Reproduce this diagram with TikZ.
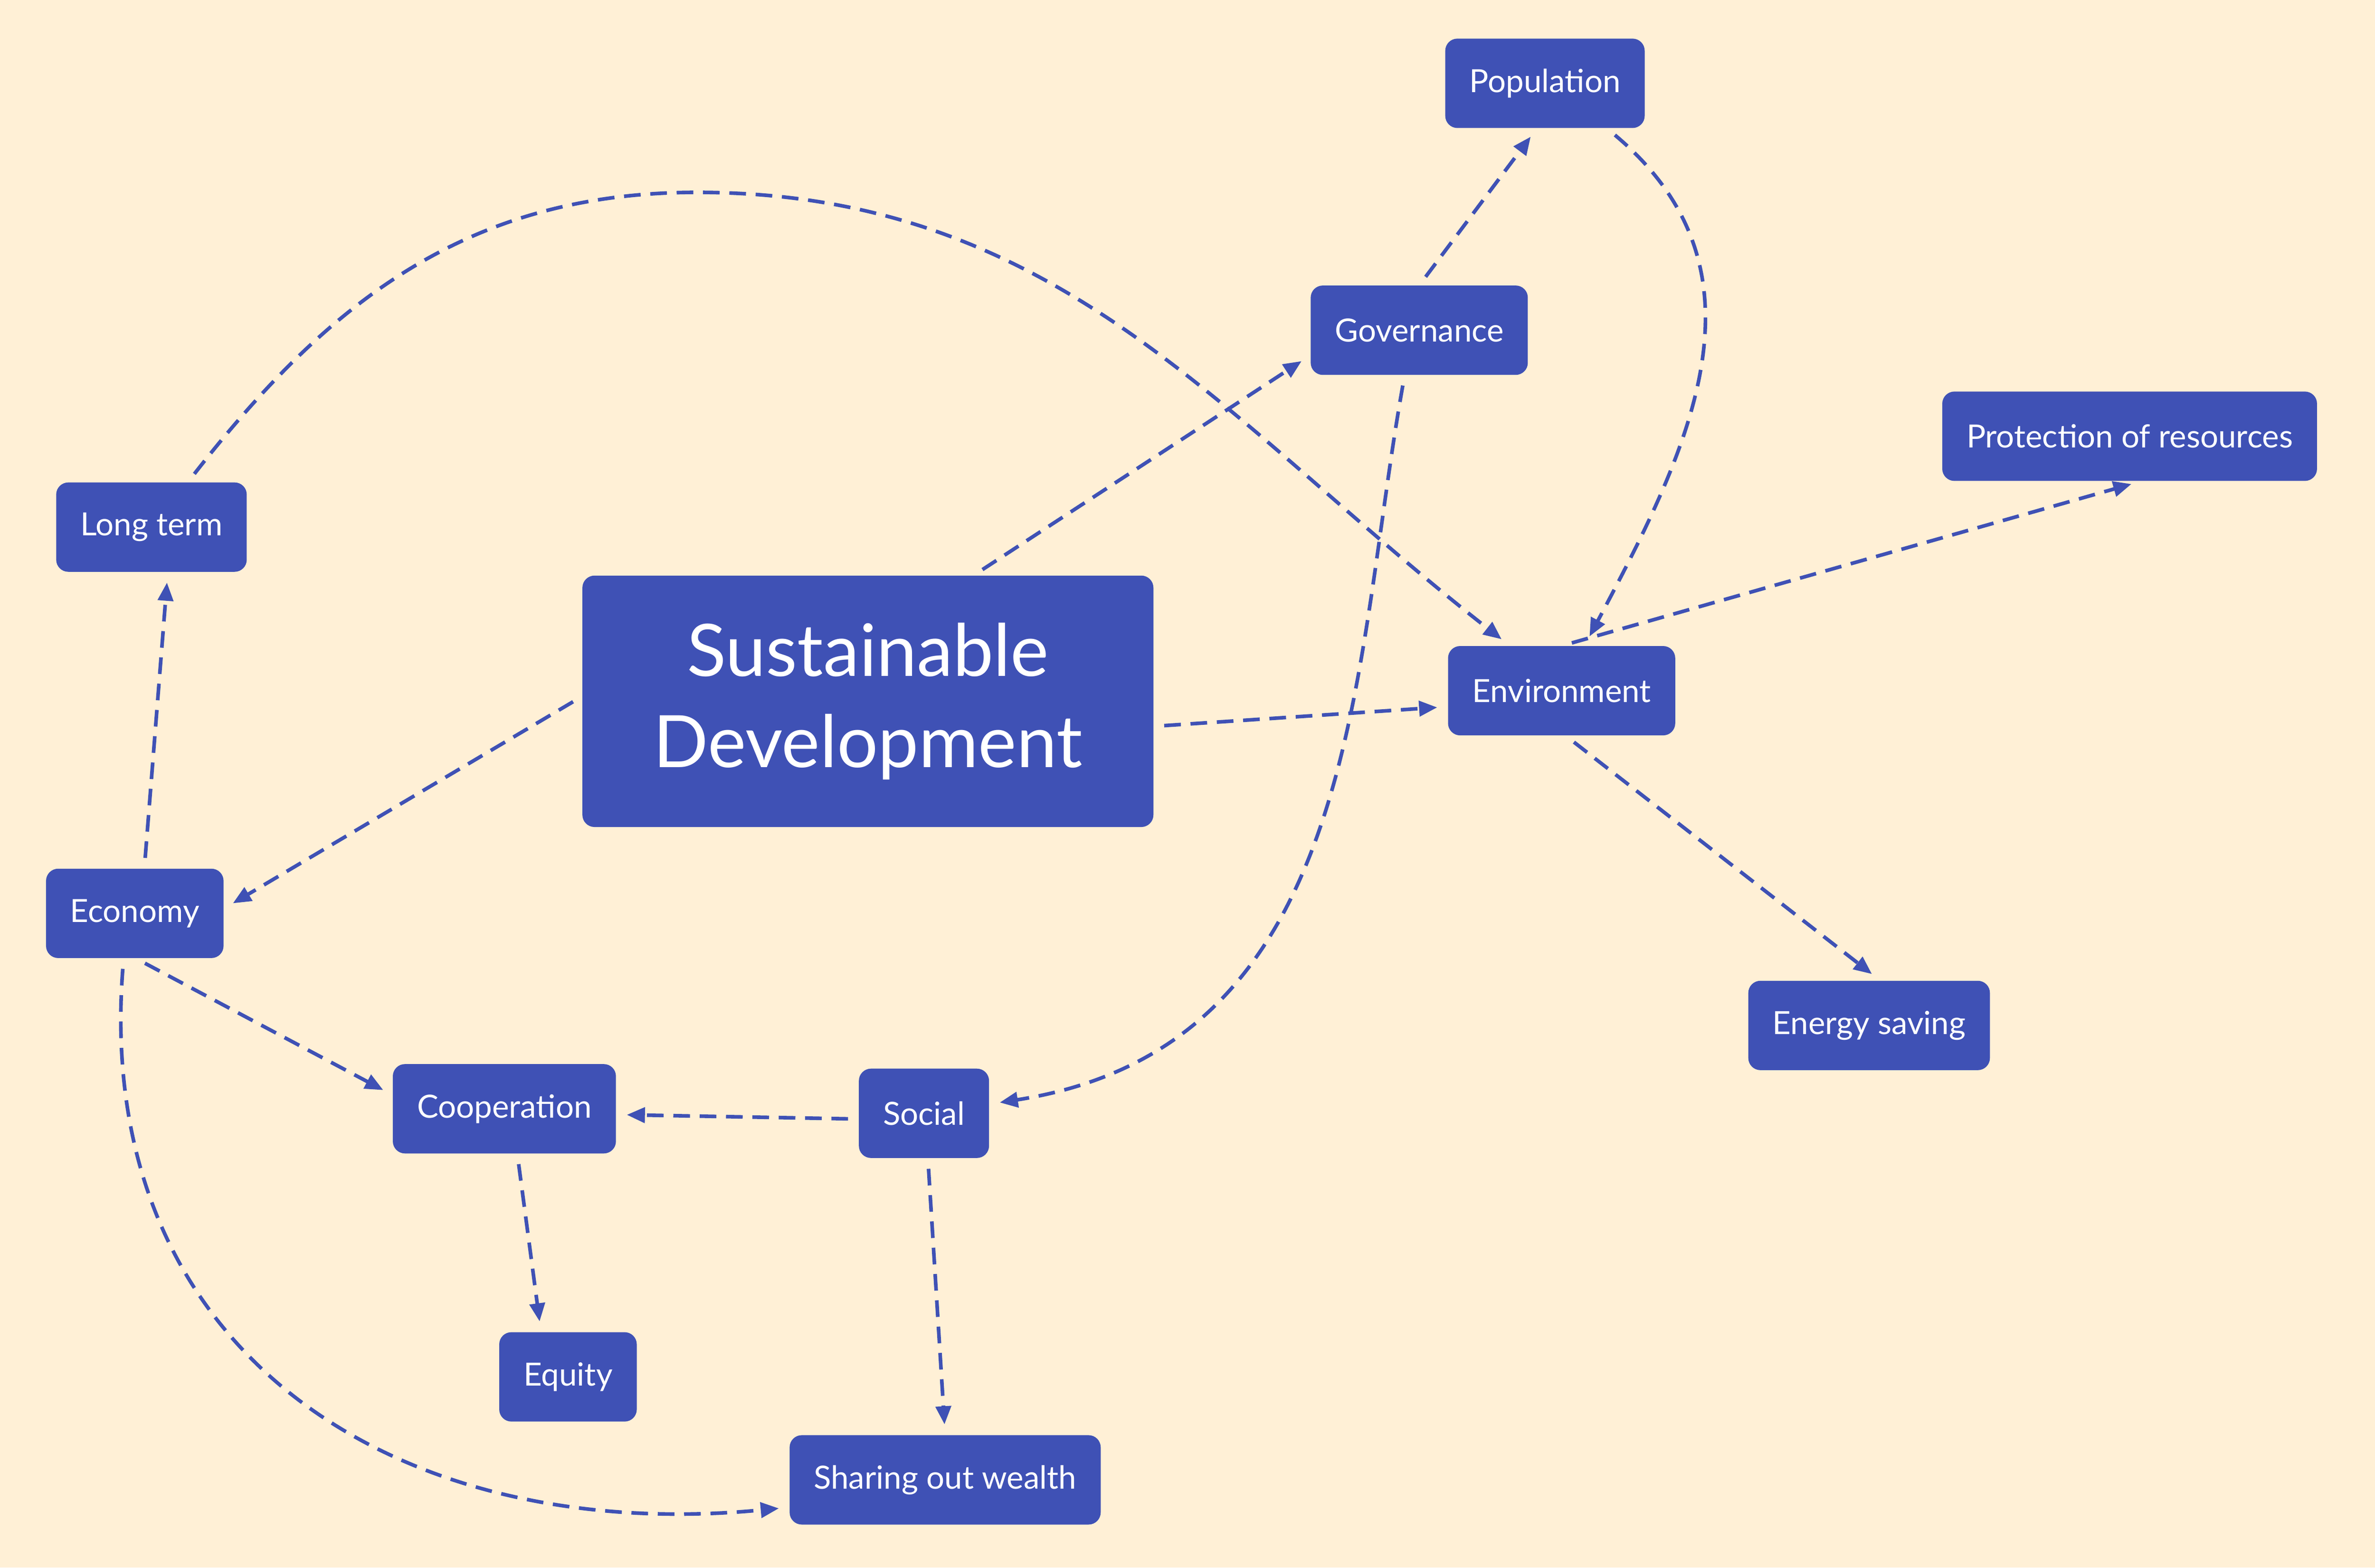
\documentclass[tikz,border=0pt]{standalone}
\usepackage{fontspec}
\setmainfont{Lato}
\usetikzlibrary{arrows.meta}
\definecolor{bg}{HTML}{FFF0D6}
\definecolor{bx}{HTML}{3F51B5}
\begin{document}
\begin{tikzpicture}[x=0.05cm,y=-0.05cm,
  box/.style={fill=bx,text=white,rounded corners=0.4cm,minimum height=2.95cm,inner xsep=0.8cm,font=\fontsize{30}{36}\selectfont},
  ar/.style={draw=bx,line width=3.4pt,dash pattern=on 0.55cm off 0.32cm,-{Triangle[length=0.6cm,width=0.5cm]},shorten <=0.35cm,shorten >=0.35cm}]
\fill[bg] (0,0) rectangle (1568,1035);
\useasboundingbox (0,0) rectangle (1568,1035);
\node[box] (pop) at (1020,55) {Population};
\node[box] (gov) at (937,218) {Governance};
\node[box] (prot) at (1406,288) {Protection of resources};
\node[box] (lt) at (100,348) {Long term};
\node[box,minimum width=18.85cm,minimum height=8.3cm,align=center,font=\fontsize{68}{86}\selectfont] (sd) at (573,463) {Sustainable\\Development};
\node[box] (env) at (1031,456) {Environment};
\node[box] (eco) at (89,603) {Economy};
\node[box] (en) at (1234,677) {Energy saving};
\node[box] (coop) at (333,732) {Cooperation};
\node[box] (soc) at (610,735) {Social};
\node[box] (eq) at (375,909) {Equity};
\node[box] (sh) at (624,977) {Sharing out wealth};
\coordinate (p1) at (460,127);
\draw[ar] (sd.50) -- (gov.193);
\draw[ar] (sd.-5) -- (env.188);
\draw[ar] (gov.90) -- (pop.-100);
\draw[ar] (env.90) -- (prot.-75);
\draw[ar] (env.-85) -- (en.76);
\draw[ar] (sd.179) -- (eco.3);
\draw[ar] (eco.78) -- (lt.-70);
\draw[ar] (eco.-89) -- (coop.173);
\draw[ar] (soc.185) -- (coop.-3);
\draw[ar] (coop.-74) -- (eq.121);
\draw[ar] (soc.-85) -- (sh.90);
\draw[ar] (pop.-36) to[out=-40,in=62,looseness=1.1] (env.63);
\draw[ar] (lt.51) to[out=52,in=180] (p1) to[out=0,in=142] (env.139);
\draw[ar] (gov.-108) .. controls +(-35,195) and +(245,-38) .. (soc.8);
\draw[ar] (eco.-104) .. controls +(-20,260) and +(-260,25) .. (sh.190);
\end{tikzpicture}
\end{document}
